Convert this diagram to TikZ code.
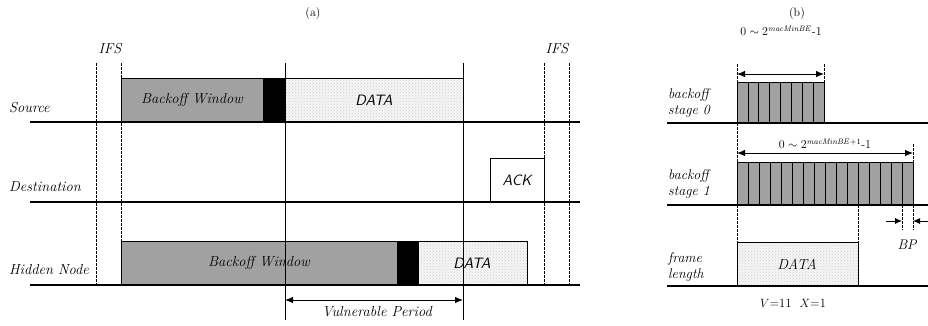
\documentclass[tikz,border=0pt]{standalone}
\usetikzlibrary{arrows.meta,patterns}
\begin{document}
\begin{tikzpicture}[x=1pt,y=-1pt,
  lbl/.style={font=\fontsize{14.5}{16}\selectfont\itshape, inner sep=0pt},
  slbl/.style={font=\fontsize{14}{16}\selectfont\itshape, inner sep=0pt, align=left},
  boxtxt/.style={font=\fontsize{14.5}{16}\selectfont\itshape, inner sep=0pt},
  sftxt/.style={font=\fontsize{15}{17}\selectfont\sffamily\itshape, inner sep=0pt},
  baseln/.style={line width=1.7pt},
  thin/.style={line width=0.6pt},
  ifs/.style={line width=0.7pt, dash pattern=on 2.5pt off 1.5pt},
  backoff/.style={fill=black!37, draw=black, line width=0.6pt},
  datab/.style={draw=black, line width=0.6pt, preaction={fill=black!4}, pattern=crosshatch dots, pattern color=black!18},
  blk/.style={fill=black, draw=black, line width=0.6pt},
  dimarr/.style={line width=0.9pt, {Latex[length=8pt,width=6.5pt]}-{Latex[length=8pt,width=6.5pt]}},
  onearr/.style={line width=0.9pt, -{Latex[length=7pt,width=6pt]}}
]
\useasboundingbox (0,0) rectangle (928,325);

% ---------- panel (a) ----------
\node[font=\fontsize{12}{14}\selectfont] (ta) at (313,14) {(a)};
\node[lbl] (ifsL) at (110,49) {IFS};
\node[lbl] (ifsR) at (557,49) {IFS};

% boxes
\filldraw[backoff] (121,78) rectangle (263,122);
\filldraw[blk] (263,78) rectangle (285,122);
\draw[datab] (285,78) rectangle (463,122);
\draw[thin, fill=white] (490,158) rectangle (544,202);
\filldraw[backoff] (121,241) rectangle (397,285);
\filldraw[blk] (397,241) rectangle (418,285);
\draw[datab] (418,241) rectangle (527,285);

\node[boxtxt] (bw1) at (192,100) {Backoff Window};
\node[sftxt] (d1) at (374,100) {DATA};
\node[sftxt] (ack) at (517,180) {ACK};
\node[boxtxt] (bw2) at (259,263) {Backoff Window};
\node[sftxt] (d2) at (472,263) {DATA};

% node labels
\node[lbl, anchor=west] (src) at (9,108) {Source};
\node[lbl, anchor=west] (dst) at (9,187) {Destination};
\node[lbl, anchor=west] (hid) at (9,270) {Hidden Node};

% baselines
\coordinate (s0) at (30,122); \coordinate (s1) at (580,122);
\coordinate (e0) at (30,202); \coordinate (e1) at (580,202);
\coordinate (h0) at (30,285); \coordinate (h1) at (580,285);
\draw[baseln] (s0) -- (s1);
\draw[baseln] (e0) -- (e1);
\draw[baseln] (h0) -- (h1);

% IFS dashed lines
\coordinate (i1t) at (96,63);  \coordinate (i1b) at (96,285);
\coordinate (i2t) at (121,63); \coordinate (i2b) at (121,285);
\coordinate (i3t) at (544,63); \coordinate (i3b) at (544,285);
\coordinate (i4t) at (569,63); \coordinate (i4b) at (569,285);
\draw[ifs] (i1t) -- (i1b);
\draw[ifs] (i2t) -- (i2b);
\draw[ifs] (i3t) -- (i3b);
\draw[ifs] (i4t) -- (i4b);

% solid verticals
\coordinate (v1t) at (285,63); \coordinate (v1b) at (285,320);
\coordinate (v2t) at (463,63); \coordinate (v2b) at (463,320);
\draw[thin] (v1t) -- (v1b);
\draw[thin] (v2t) -- (v2b);

% vulnerable period
\coordinate (vp0) at (285,300); \coordinate (vp1) at (463,300);
\draw[dimarr] (vp0) -- (vp1);
\node[lbl] (vp) at (377,312) {Vulnerable Period};

% ---------- panel (b) ----------
\node[font=\fontsize{12}{14}\selectfont] (tb) at (797,14) {(b)};

\node[font=\fontsize{12}{14}\selectfont, inner sep=0pt] (r0) at (781,31) {$0\sim 2^{\mathit{macMinBE}}$\mbox{-}1};
\node[font=\fontsize{12}{14}\selectfont, inner sep=0pt] (r1) at (825,144) {$0\sim 2^{\mathit{macMinBE}+1}$\mbox{-}1};

% stage 0 slots
\foreach \i in {0,...,7} {
  \filldraw[backoff] ({737+\i*10.875},82) rectangle ({737+(\i+1)*10.875},123);
}
% stage 1 slots
\foreach \i in {0,...,15} {
  \filldraw[backoff] ({737+\i*11},162) rectangle ({737+(\i+1)*11},205);
}
\draw[datab] (737,242) rectangle (858,286);
\node[boxtxt] (d3) at (797,264) {DATA};

% labels
\node[slbl, anchor=west] (st0) at (668,103) {backoff\\stage 0};
\node[slbl, anchor=west] (st1) at (668,184) {backoff\\stage 1};
\node[slbl, anchor=west] (fl) at (668,267) {frame\\length};

% baselines
\coordinate (b00) at (667,123); \coordinate (b01) at (928,123);
\coordinate (b10) at (667,205); \coordinate (b11) at (928,205);
\coordinate (b20) at (667,286); \coordinate (b21) at (928,286);
\draw[baseln] (b00) -- (b01);
\draw[baseln] (b10) -- (b11);
\draw[baseln] (b20) -- (b21);

% dashed guides
\coordinate (g1t) at (737,64);  \coordinate (g1b) at (737,82);
\coordinate (g2t) at (824,64);  \coordinate (g2b) at (824,82);
\coordinate (g3t) at (737,123); \coordinate (g3b) at (737,162);
\coordinate (g4t) at (913,144); \coordinate (g4b) at (913,162);
\coordinate (g5t) at (737,205); \coordinate (g5b) at (737,242);
\coordinate (g6t) at (858,205); \coordinate (g6b) at (858,242);
\coordinate (g7t) at (902,205); \coordinate (g7b) at (902,230);
\coordinate (g8t) at (913,205); \coordinate (g8b) at (913,230);
\foreach \a/\b in {g1t/g1b,g2t/g2b,g3t/g3b,g4t/g4b,g5t/g5b,g6t/g6b,g7t/g7b,g8t/g8b}
  \draw[ifs, line width=0.5pt] (\a) -- (\b);

% range arrows
\coordinate (a00) at (737,74); \coordinate (a01) at (824,74);
\coordinate (a10) at (737,153); \coordinate (a11) at (913,153);
\draw[dimarr] (a00) -- (a01);
\draw[dimarr] (a10) -- (a11);

% BP arrows
\coordinate (bpl0) at (886,221); \coordinate (bpl1) at (902,221);
\coordinate (bpr0) at (928,221); \coordinate (bpr1) at (913,221);
\draw[onearr] (bpl0) -- (bpl1);
\draw[onearr] (bpr0) -- (bpr1);
\node[lbl, font=\fontsize{14}{16}\selectfont\itshape] (bp) at (907,245) {BP};

\node[font=\fontsize{12.5}{14}\selectfont, inner sep=0pt] (vx) at (793,303) {$V$=11\ \ $X$=1};
\end{tikzpicture}
\end{document}
